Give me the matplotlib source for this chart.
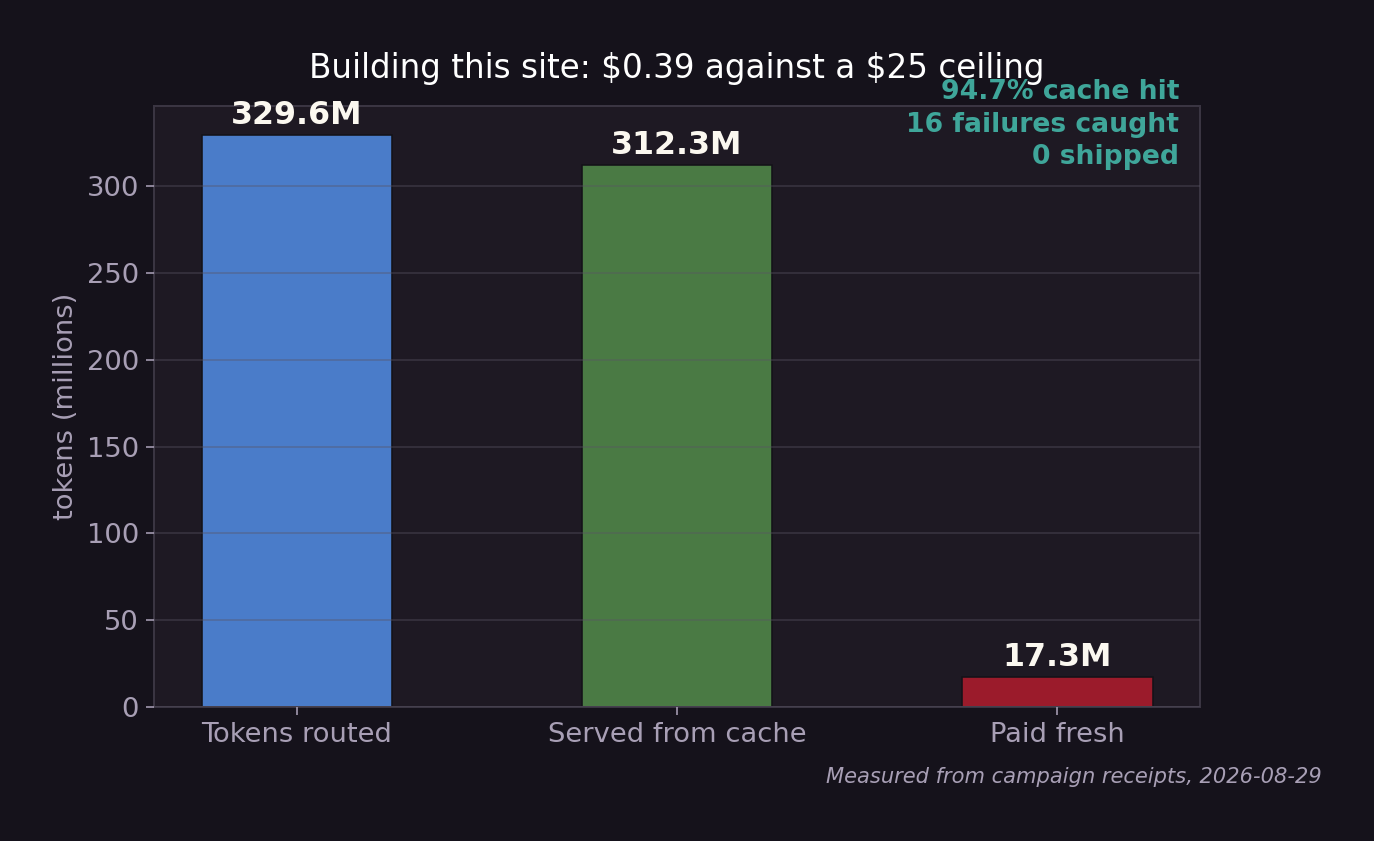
#!/usr/bin/env python3
"""Token spend bar chart: routed vs cached vs paid fresh."""

import matplotlib
matplotlib.use("Agg")
import matplotlib.pyplot as plt
import numpy as np

categories = ["Tokens routed", "Served from cache", "Paid fresh"]
tokens_m = [329.6, 312.3, 17.3]
value_labels = ["329.6M", "312.3M", "17.3M"]
bar_colors = ["#4a7cc9", "#4a7a44", "#9b1b2b"]
callout_lines = ["94.7% cache hit", "16 failures caught", "0 shipped"]

FIG_BG = "#15121b"
AX_BG = "#1e1923"
TICK_COLOR = "#a89fb5"
SPINE_COLOR = "#3a3542"
TEAL = "#3fa69a"


def main():
    fig = plt.figure(figsize=(1374 / 144, 841 / 144), dpi=144, facecolor=FIG_BG)
    ax = fig.add_axes([0.1121, 0.1593, 0.7613, 0.7147])
    ax.set_facecolor(AX_BG)

    x = np.arange(len(categories))
    ax.bar(x, tokens_m, width=0.5, color=bar_colors,
           edgecolor="#141218", linewidth=0.8, zorder=1)

    # value labels on top of each bar
    for xi, v, lab in zip(x, tokens_m, value_labels):
        ax.annotate(lab, xy=(xi, v), xytext=(0, 2), textcoords="offset points",
                    ha="center", va="bottom", fontsize=15.8, fontweight="bold",
                    color="#fbf8f0")

    ax.set_xticks(x)
    ax.set_xticklabels(categories)
    ax.tick_params(colors=TICK_COLOR, labelsize=13.7, length=4)
    ax.set_ylabel("tokens (millions)", fontsize=13.7, color=TICK_COLOR)

    ax.yaxis.grid(True, color="#5a5564", alpha=0.45, linewidth=0.8, zorder=2)
    ax.set_axisbelow(False)
    for s in ax.spines.values():
        s.set_color(SPINE_COLOR)
        s.set_linewidth(1.0)

    ax.set_title(r"Building this site: \$0.39 against a \$25 ceiling",
                 fontsize=16.3, color="#ffffff", pad=14)

    ax.text(0.98, 1.045, "\n".join(callout_lines), transform=ax.transAxes,
            ha="right", va="top", fontsize=13.3, fontweight="bold", color=TEAL,
            linespacing=1.33)

    fig.text(0.962, 0.076, "Measured from campaign receipts, 2026-08-29",
             ha="right", va="center", fontsize=10.5, style="italic",
             color=TICK_COLOR)

    fig.savefig("out.png", dpi=144, facecolor=FIG_BG)


if __name__ == "__main__":
    main()
